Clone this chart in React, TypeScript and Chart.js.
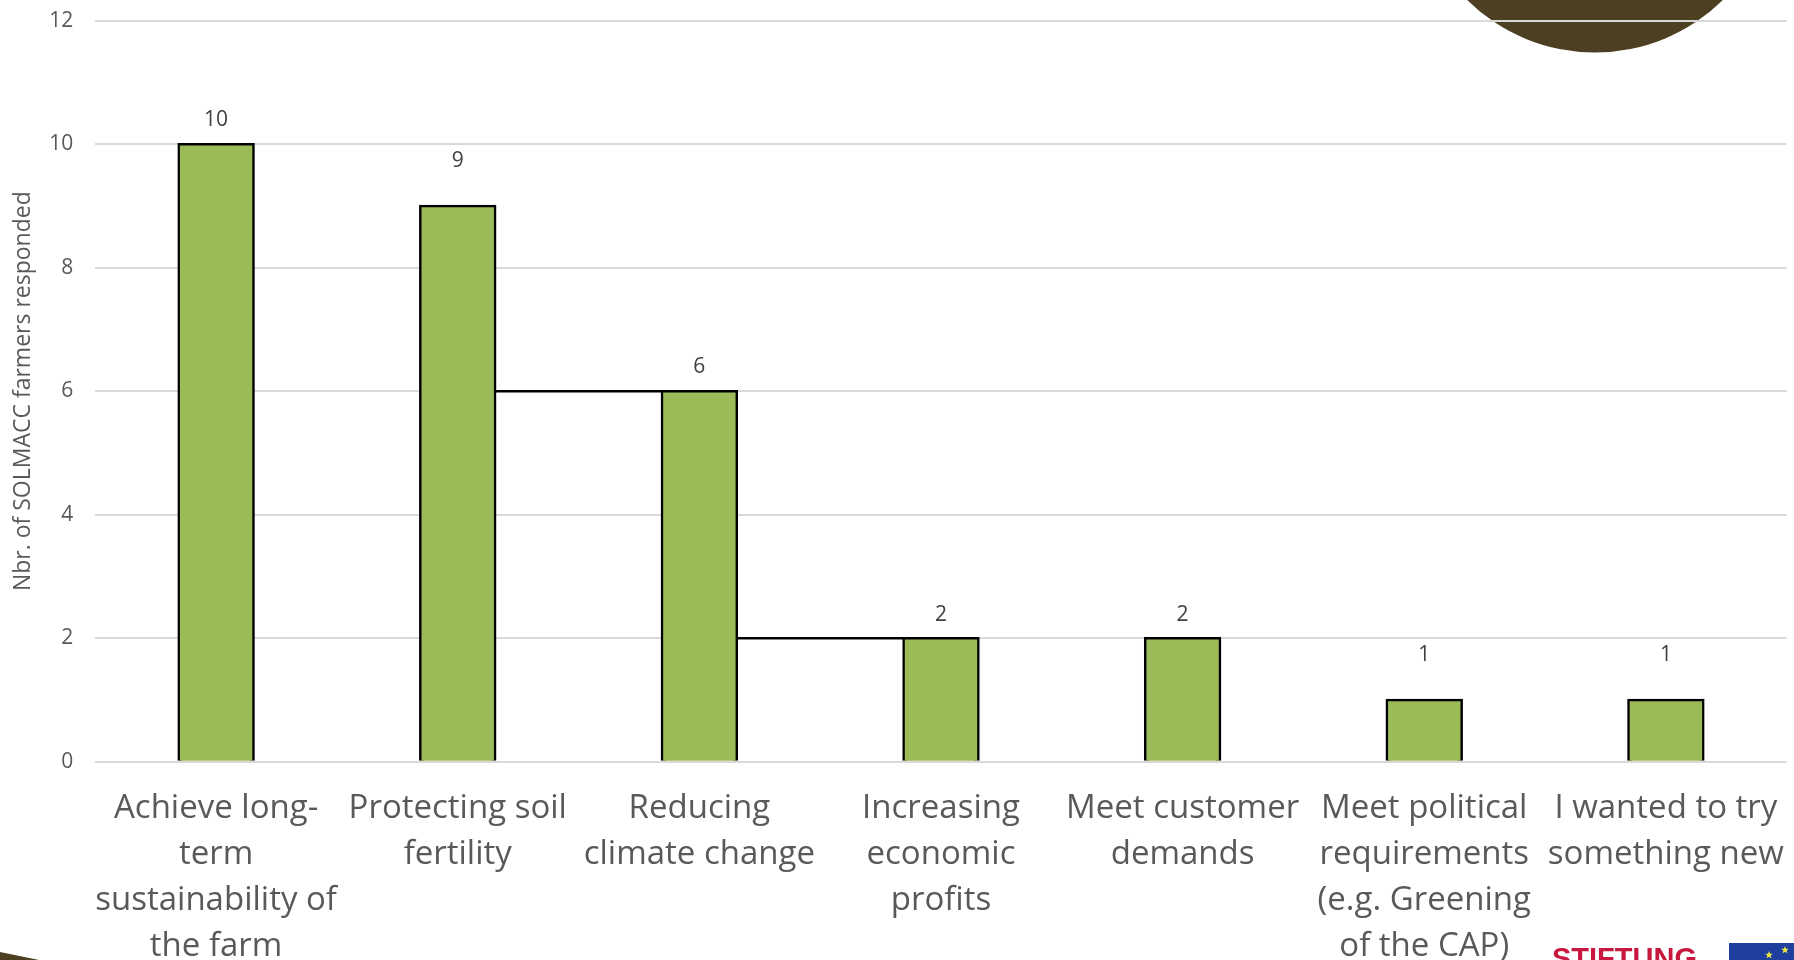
import React, { useEffect, useRef } from "react";
import { Chart, registerables } from "chart.js";

Chart.register(...registerables);

const categories = [
  ["Achieve long-", "term", "sustainability of", "the farm"],
  ["Protecting soil", "fertility"],
  ["Reducing", "climate change"],
  ["Increasing", "economic", "profits"],
  ["Meet customer", "demands"],
  ["Meet political", "requirements", "(e.g. Greening", "of the CAP)"],
  ["I wanted to try", "something new"],
];
const responses = [10, 9, 6, 2, 2, 1, 1];
const connectorAtSix = [null, 6, 6, null, null, null, null];
const connectorAtTwo = [null, null, 2, 2, null, null, null];
const labelGaps = [24, 45, 24, 23.5, 23.5, 45, 45];

const WIDTH = 1794;
const HEIGHT = 960;
const FONT = '"Open Sans", sans-serif';

function star(ctx: CanvasRenderingContext2D, cx: number, cy: number, r: number) {
  ctx.beginPath();
  for (let i = 0; i < 10; i++) {
    const radius = i % 2 === 0 ? r : r * 0.42;
    const a = -Math.PI / 2 + (i * Math.PI) / 5;
    ctx.lineTo(cx + radius * Math.cos(a), cy + radius * Math.sin(a));
  }
  ctx.closePath();
  ctx.fill();
}

// Slide furniture that sits behind and around the plot.
const slideDecor = {
  id: "slideDecor",
  beforeDraw(chart: Chart) {
    const { ctx } = chart;
    ctx.save();
    ctx.fillStyle = "#4d3f22";
    ctx.beginPath();
    ctx.arc(1595, -129.5, 182, 0, Math.PI * 2);
    ctx.fill();

    ctx.beginPath();
    ctx.moveTo(0, 952);
    ctx.lineTo(39, 960);
    ctx.lineTo(0, 960);
    ctx.closePath();
    ctx.fill();

    ctx.fillStyle = "#c9183f";
    ctx.font = 'bold 29px "Liberation Sans", sans-serif';
    ctx.textAlign = "left";
    ctx.textBaseline = "alphabetic";
    ctx.fillText("STIFTUNG", 1552, 968);

    ctx.fillStyle = "#1f3f9e";
    ctx.fillRect(1729, 943, 65, 17);
    ctx.fillStyle = "#f4ec3c";
    star(ctx, 1769, 955, 4);
    star(ctx, 1785, 950, 4);
    ctx.restore();
  },
};

// Value captions above each bar.
const valueLabels = {
  id: "valueLabels",
  afterDatasetsDraw(chart: Chart) {
    const { ctx, scales } = chart;
    ctx.save();
    ctx.fillStyle = "#404040";
    ctx.font = `21px ${FONT}`;
    ctx.textAlign = "center";
    ctx.textBaseline = "middle";
    responses.forEach((value, i) => {
      const x = scales.x.getPixelForValue(i);
      const y = scales.y.getPixelForValue(value);
      ctx.fillText(String(value), x, y - labelGaps[i]);
    });
    ctx.restore();
  },
};

export default function App() {
  const canvasRef = useRef<HTMLCanvasElement | null>(null);

  useEffect(() => {
    const connector = (data: (number | null)[]) => ({
      type: "line" as const,
      data,
      borderColor: "#000000",
      borderWidth: 2.5,
      pointRadius: 0,
      order: 2,
      spanGaps: false,
    });

    const chart = new Chart(canvasRef.current!, {
      type: "bar",
      data: {
        labels: categories,
        datasets: [
          {
            type: "bar" as const,
            data: responses,
            backgroundColor: "#9bbb59",
            borderColor: "#000000",
            borderWidth: 2.5,
            borderSkipped: "bottom",
            inflateAmount: 1.25,
            categoryPercentage: 1,
            barPercentage: 0.31,
            order: 1,
          },
          connector(connectorAtSix),
          connector(connectorAtTwo),
        ],
      },
      options: {
        responsive: false,
        animation: false,
        devicePixelRatio: 1,
        layout: { padding: { top: 20.7, right: 7.3, left: 0, bottom: 0 } },
        plugins: { legend: { display: false }, tooltip: { enabled: false } },
        scales: {
          x: {
            grid: { display: false },
            border: { display: false },
            ticks: {
              autoSkip: false,
              maxRotation: 0,
              minRotation: 0,
              padding: 16,
              color: "#595959",
              font: { family: FONT, size: 33, lineHeight: 1.394 },
            },
            afterFit(scale: any) {
              scale.height = HEIGHT - 761.7;
              scale.paddingLeft = 0;
              scale.paddingRight = 0;
            },
          },
          y: {
            min: 0,
            max: 12,
            grid: { color: "#d9d9d9", lineWidth: 2, drawTicks: false },
            border: { display: false },
            ticks: {
              stepSize: 2,
              padding: 22,
              color: "#595959",
              font: { family: FONT, size: 21 },
            },
            title: {
              display: true,
              text: "Nbr. of SOLMACC farmers responded",
              color: "#595959",
              font: { family: FONT, size: 23 },
              padding: { top: 10, bottom: 0 },
            },
            afterFit(scale: any) {
              scale.width = 95.3;
              scale.paddingTop = 0;
              scale.paddingBottom = 0;
            },
          },
        },
      },
      plugins: [slideDecor, valueLabels],
    } as any);

    return () => chart.destroy();
  }, []);

  return (
    <div style={{ position: "fixed", inset: 0, background: "#ffffff", overflow: "hidden" }}>
      <canvas ref={canvasRef} width={WIDTH} height={HEIGHT} style={{ display: "block", width: WIDTH, height: HEIGHT }} />
    </div>
  );
}
